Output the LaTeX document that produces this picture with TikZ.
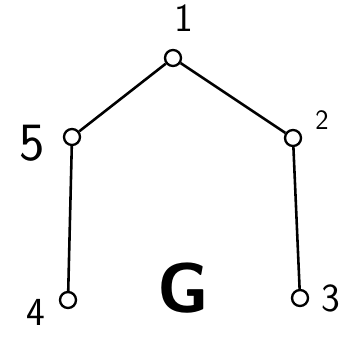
\documentclass[tikz,border=0pt]{standalone}
\usepackage{tikz}
\usetikzlibrary{positioning}

\begin{document}
\begin{tikzpicture}[x=0.03cm, y=-0.03cm, line width=2.2pt, font=\sffamily]
	\useasboundingbox (0,0) rectangle (349,342);
	% tree drawn by hand: root on top, two legs down
	\tikzset{vtx/.style={draw, circle, inner sep=0pt, minimum size=4.8mm, line width=2pt},
		num/.style={font=\fontsize{34}{36}\sffamily}}
	\node[vtx] (v1) at (173,58) {};
	\node[vtx] (v5) at (72,137) {};
	\node[vtx] (v2) at (293,138) {};
	\node[vtx] (v4) at (68,300) {};
	\node[vtx] (v3) at (300,298) {};

	\node[num] (l1) at (184,18) {1};
	\node[num, font=\fontsize{46}{48}\sffamily] (l5) at (32,143) {5};
	\node[num, font=\fontsize{24}{26}\sffamily] (l2) at (322,120) {2};
	\node[num] (l4) at (36,312) {4};
	\node[num] (l3) at (331,298) {3};
	\node[font=\fontsize{60}{62}\sffamily\bfseries] (g) at (183,288) {G};

	% edges
	\draw (v1) -- (v5);
	\draw (v1) -- (v2);
	\draw (v5) -- (v4);
	\draw (v2) -- (v3);
\end{tikzpicture}
\end{document}
